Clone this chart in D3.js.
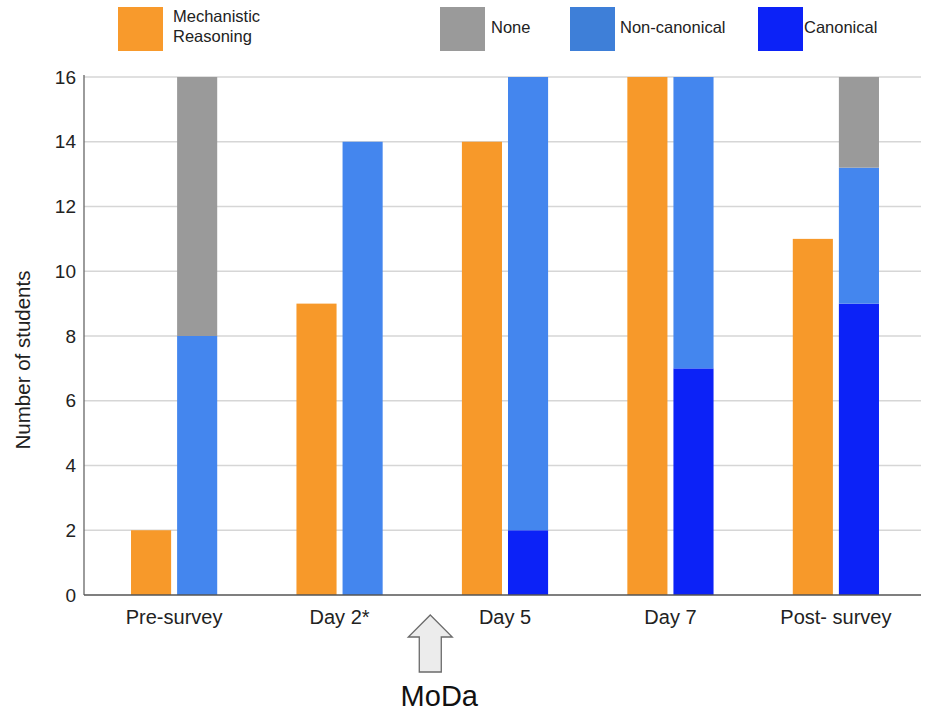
<!DOCTYPE html>
<html>
<head>
<meta charset="utf-8">
<script src="https://cdn.jsdelivr.net/npm/d3@7"></script>
<style>
  html, body { margin: 0; padding: 0; background: #fff; }
  svg { display: block; font-family: "Liberation Sans", Arial, sans-serif; }
</style>
</head>
<body>
<svg id="chart" width="930" height="711"></svg>
<script>
// Survey stages and student counts per response type
const categories = ["Pre-survey", "Day 2*", "Day 5", "Day 7", "Post- survey"];
const mechanistic = [2, 9, 14, 16, 11];
const canonical = [0, 0, 2, 7, 9];
const nonCanonical = [8, 14, 14, 9, 4.2];
const none = [8, 0, 0, 0, 2.8];
const yTicks = [0, 2, 4, 6, 8, 10, 12, 14, 16];

const colors = {
  mechanistic: "#f7992a",
  none: "#9a9a9a",
  nonCanonical: "#4486ee",
  canonical: "#0c22f7"
};

const svg = d3.select("#chart");
const plotLeft = 84, plotRight = 921, plotTop = 77, plotBottom = 595;

const x = d3.scaleBand().domain(categories).range([88, 922])
  .paddingInner(0.479).paddingOuter(0.26);
const inner = d3.scaleBand().domain(["mech", "stack"]).range([0, x.bandwidth()])
  .paddingInner(0.13);
const y = d3.scaleLinear().domain([0, 16]).range([plotBottom, plotTop]);

// Horizontal gridlines
svg.append("g").selectAll("line").data(yTicks.filter(t => t > 0)).join("line")
  .attr("x1", plotLeft).attr("x2", plotRight)
  .attr("y1", d => y(d)).attr("y2", d => y(d))
  .attr("stroke", "#d6d6d6").attr("stroke-width", 1.3);

// Left axis labels
const yAxis = svg.append("g").attr("transform", `translate(${plotLeft},0)`)
  .call(d3.axisLeft(y).tickValues(yTicks).tickSize(0).tickPadding(8));
yAxis.select(".domain").remove();
yAxis.selectAll("text").attr("font-size", 19).attr("fill", "#222")
  .attr("font-family", "Liberation Sans, Arial, sans-serif");

// Stacked responses
const rows = categories.map((c, i) => ({
  cat: c, canonical: canonical[i], nonCanonical: nonCanonical[i], none: none[i]
}));
const stack = d3.stack().keys(["canonical", "nonCanonical", "none"])(rows);

svg.append("g").selectAll("rect").data(categories).join("rect")
  .attr("x", c => x(c) + inner("mech"))
  .attr("width", inner.bandwidth())
  .attr("y", (c, i) => y(mechanistic[i]))
  .attr("height", (c, i) => y(0) - y(mechanistic[i]))
  .attr("fill", colors.mechanistic);

svg.append("g").selectAll("g").data(stack).join("g")
  .attr("fill", s => colors[s.key])
  .selectAll("rect").data(s => s.filter(d => d[1] - d[0] > 0)).join("rect")
  .attr("x", d => x(d.data.cat) + inner("stack"))
  .attr("width", inner.bandwidth())
  .attr("y", d => y(d[1]))
  .attr("height", d => y(d[0]) - y(d[1]));

// Axis lines
svg.append("line").attr("x1", plotLeft).attr("x2", plotLeft)
  .attr("y1", plotTop - 2).attr("y2", plotBottom)
  .attr("stroke", "#666").attr("stroke-width", 1.3);
svg.append("line").attr("x1", plotLeft).attr("x2", plotRight)
  .attr("y1", plotBottom).attr("y2", plotBottom)
  .attr("stroke", "#555").attr("stroke-width", 1.6);

// Category labels
svg.append("g").selectAll("text").data(categories).join("text")
  .attr("x", c => x(c) + x.bandwidth() / 2)
  .attr("y", 624)
  .attr("text-anchor", "middle")
  .attr("font-size", 20).attr("fill", "#222")
  .text(c => c);

// Y-axis title
svg.append("text")
  .attr("transform", "translate(30,360) rotate(-90)")
  .attr("text-anchor", "middle")
  .attr("font-size", 20.5).attr("fill", "#222")
  .text("Number of students");

// Intervention marker between Day 2* and Day 5
const ax = (x("Day 2*") + x("Day 5") + x.bandwidth()) / 2 + 8;
const arrow = [
  [ax, 615], [ax + 22, 637], [ax + 11, 637], [ax + 11, 672],
  [ax - 11, 672], [ax - 11, 637], [ax - 22, 637]
];
svg.append("path")
  .attr("d", d3.line()(arrow) + "Z")
  .attr("fill", "#ececec").attr("stroke", "#6a6a6a").attr("stroke-width", 1.3);
svg.append("text")
  .attr("x", ax + 9).attr("y", 706)
  .attr("text-anchor", "middle")
  .attr("font-size", 29).attr("fill", "#111")
  .text("MoDa");

// Legend
const legend = [
  { key: "mechanistic", lines: ["Mechanistic", "Reasoning"], x: 118, tx: 55, fill: "#f89a2c" },
  { key: "none", lines: ["None"], x: 440, tx: 51, fill: "#9a9a9a" },
  { key: "nonCanonical", lines: ["Non-canonical"], x: 570, tx: 50, fill: "#3e7fd8" },
  { key: "canonical", lines: ["Canonical"], x: 758, tx: 46, fill: "#0c22f7" }
];
const lg = svg.append("g").selectAll("g").data(legend).join("g")
  .attr("transform", d => `translate(${d.x},7)`);
lg.append("rect").attr("width", 45).attr("height", 44).attr("fill", d => d.fill);
lg.each(function (d) {
  const t = d3.select(this).append("text")
    .attr("font-size", 16.5).attr("fill", "#222");
  d.lines.forEach((line, i) => {
    t.append("tspan").attr("x", d.tx)
      .attr("y", d.lines.length === 1 ? 26 : 15 + i * 20)
      .text(line);
  });
});
</script>
</body>
</html>
